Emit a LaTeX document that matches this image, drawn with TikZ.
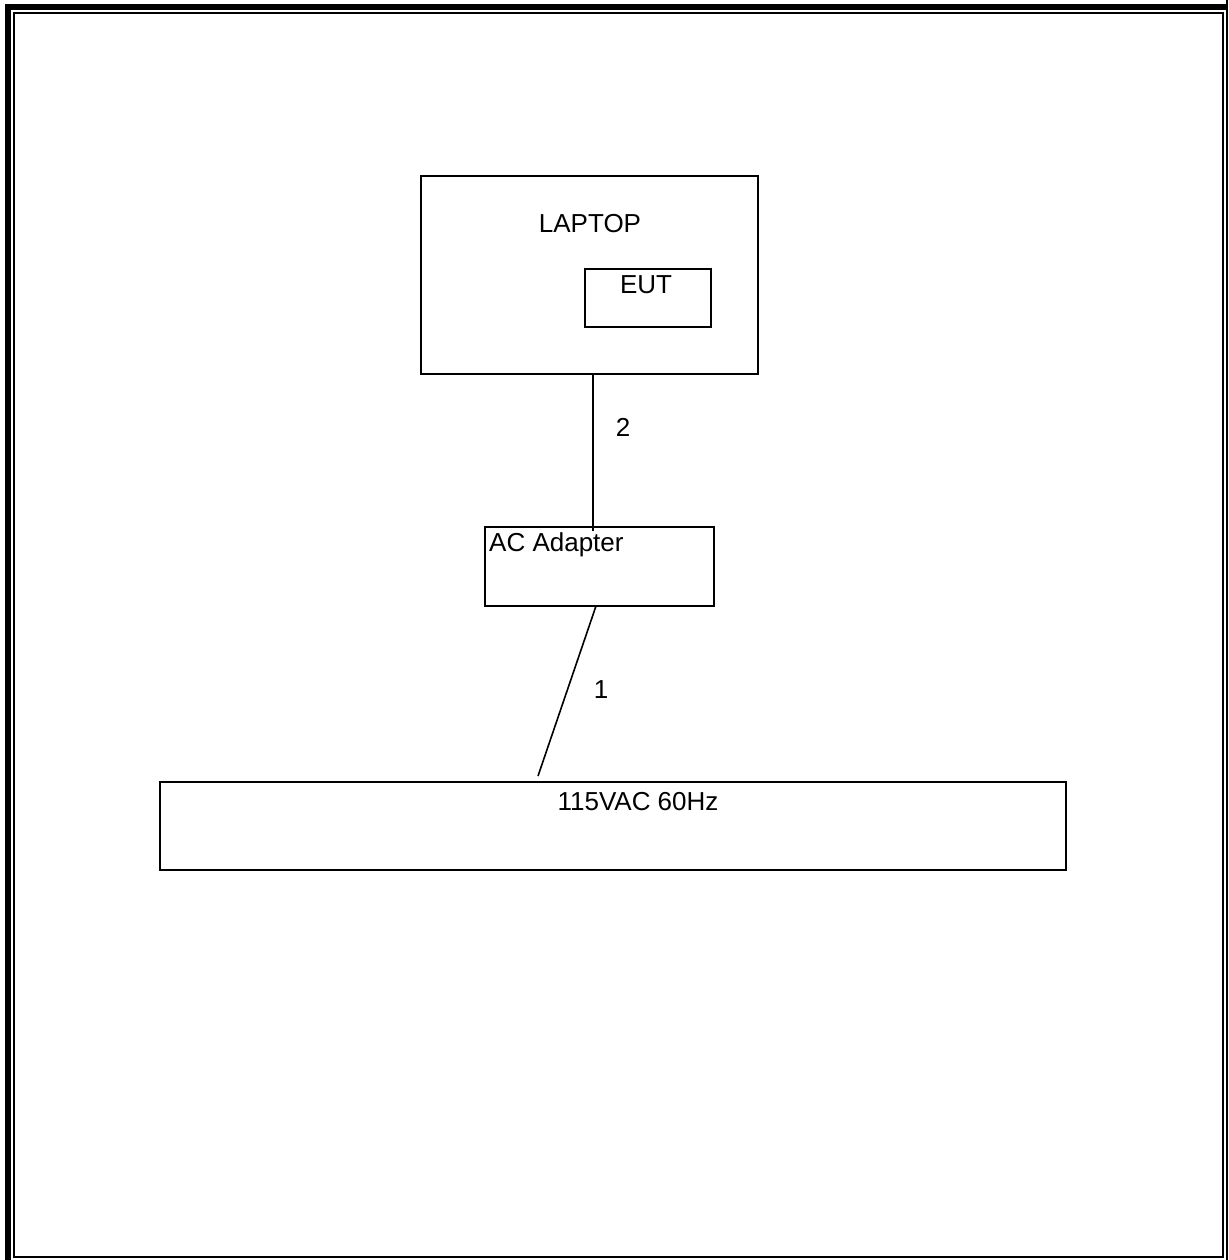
\documentclass[tikz,border=0pt]{standalone}
\usepackage{fontspec}
\setmainfont{Liberation Sans}
\begin{document}
\begin{tikzpicture}[x=1pt,y=-1pt,
  box/.style={draw,line width=1.7pt,inner sep=0pt},
  lbl/.style={inner sep=0pt,font=\fontsize{26}{29}\selectfont},
  wire/.style={line width=1.6pt}]
\useasboundingbox (0,0) rectangle (1228,1260);
% frame
\fill (5,4) rectangle (11,1260);
\fill (5,4) rectangle (1228,10);
\draw[line width=2pt] (14,13) rectangle (1223,1257);
\draw[line width=1.5pt] (1227,0) -- (1227,1260);
% boxes
\node[box,minimum width=337pt,minimum height=198pt] (laptop) at (589.5,275) {};
\node[box,minimum width=126pt,minimum height=58pt] (eut) at (648,298) {};
\node[box,minimum width=229pt,minimum height=79pt] (adapter) at (599.5,566.5) {};
\node[box,minimum width=906pt,minimum height=88pt] (mains) at (613,826) {};
% texts
\node[lbl] (tlaptop) at (590,224) {LAPTOP};
\node[lbl] (teut) at (646,285) {EUT};
\node[lbl,anchor=west] (tadapter) at (489,545) {AC Adapter};
\node[lbl] (tmains) at (638,802) {115VAC 60Hz};
\node[lbl] (t2) at (623,427) {2};
\node[lbl] (t1) at (601,690) {1};
% wires
\coordinate (w2a) at (593,374);
\coordinate (w2b) at (593,531);
\draw[wire] (w2a) -- (w2b);
\coordinate (w1a) at (596,606);
\coordinate (w1b) at (538,776);
\draw[wire] (w1a) -- (w1b);
\end{tikzpicture}
\end{document}
